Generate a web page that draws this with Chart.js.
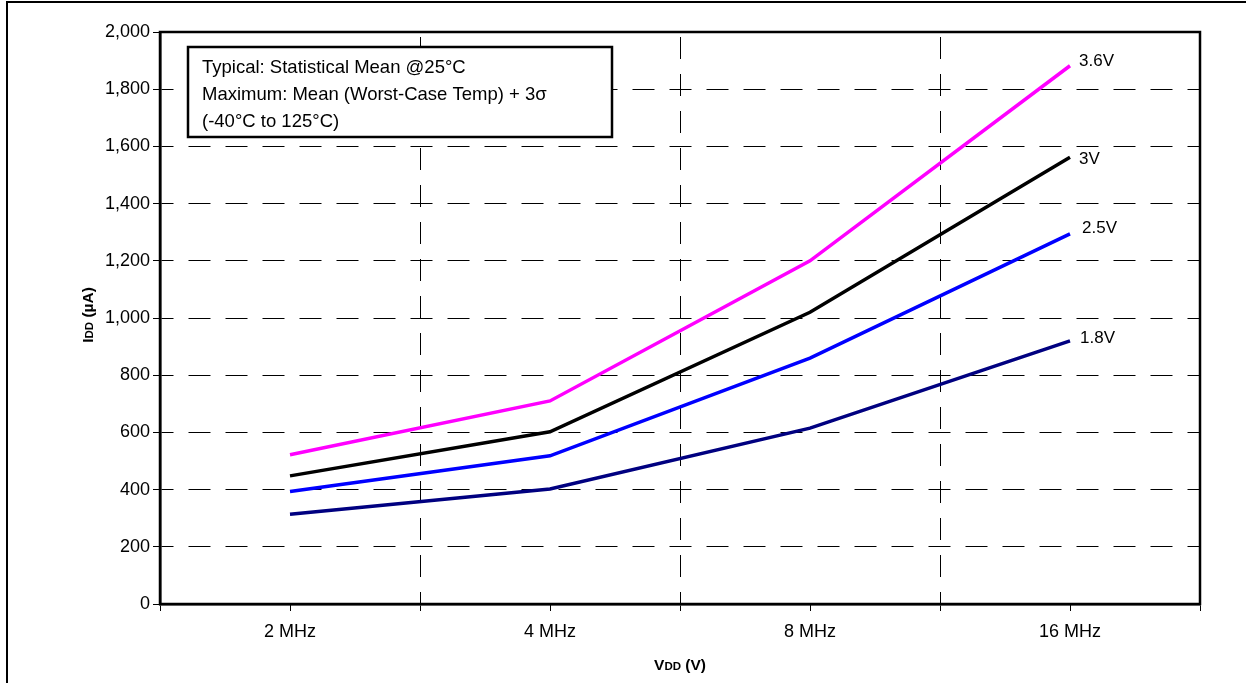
<!DOCTYPE html>
<html>
<head>
<meta charset="utf-8">
<script src="https://cdn.jsdelivr.net/npm/chart.js@4.4.1/dist/chart.umd.min.js"></script>
<style>
  html, body { margin: 0; padding: 0; background: #fff; }
  #wrap { position: relative; width: 1246px; height: 683px; }
</style>
</head>
<body>
<div id="wrap"><canvas id="c" width="1246" height="683"></canvas></div>
<script>
// ---- data ----
const categories = ['2 MHz', '4 MHz', '8 MHz', '16 MHz'];
const series36 = [522, 710, 1200, 1882];
const series30 = [448, 602, 1020, 1562];
const series25 = [393, 518, 860, 1294];
const series18 = [314, 402, 615, 920];
const seriesNames = ['3.6V', '3V', '2.5V', '1.8V'];
const yTickValues = [0, 200, 400, 600, 800, 1000, 1200, 1400, 1600, 1800, 2000];
const noteLines = [
  'Typical: Statistical Mean @25°C',
  'Maximum: Mean (Worst-Case Temp) + 3σ',
  '(-40°C to 125°C)'
];
const xTitleParts = [['V', 15.5], ['DD', 11.5], [' (V)', 15.5]];
const yTitleParts = [['I', 15.5], ['DD', 11.5], [' (µA)', 15.5]];

const FONT = '"Liberation Sans", Arial, Helvetica, sans-serif';
const colors = ['#ff00ff', '#000000', '#0000ff', '#000080'];
const labelOffsets = [[9, -4], [9, 2], [12, -6], [10, -3]];

const decorPlugin = {
  id: 'decor',
  beforeDatasetsDraw(chart) {
    const {ctx, chartArea: a} = chart;
    ctx.save();
    ctx.strokeStyle = '#000';
    ctx.lineWidth = 2.5;
    ctx.setLineDash([]);
    ctx.strokeRect(a.left, a.top, a.right - a.left, a.bottom - a.top);
    // extra tick marks at category centres
    const xs = chart.scales.x;
    ctx.lineWidth = 1;
    categories.forEach((c, i) => {
      const px = Math.round(xs.getPixelForValue(i)) + 0.5;
      ctx.beginPath();
      ctx.moveTo(px, a.bottom);
      ctx.lineTo(px, a.bottom + 7);
      ctx.stroke();
    });
    ctx.restore();
  },
  afterDatasetsDraw(chart) {
    const {ctx, chartArea: a} = chart;
    ctx.save();
    // series end labels
    ctx.font = '17px ' + FONT;
    ctx.fillStyle = '#000';
    ctx.textAlign = 'left';
    ctx.textBaseline = 'middle';
    chart.data.datasets.forEach((ds, i) => {
      const meta = chart.getDatasetMeta(i);
      const last = meta.data[meta.data.length - 1];
      ctx.fillText(seriesNames[i], last.x + labelOffsets[i][0], last.y + labelOffsets[i][1]);
    });
    // note box
    ctx.fillStyle = '#fff';
    ctx.fillRect(188, 47, 424, 90);
    ctx.strokeStyle = '#000';
    ctx.lineWidth = 2.5;
    ctx.strokeRect(188, 47, 424, 90);
    ctx.fillStyle = '#000';
    ctx.font = '18.5px ' + FONT;
    noteLines.forEach((t, i) => ctx.fillText(t, 202, 68 + i * 27));
    // axis titles
    const drawParts = (parts, cx, cy, rot) => {
      ctx.save();
      ctx.translate(cx, cy);
      ctx.rotate(rot);
      let total = 0;
      parts.forEach(([t, s]) => { ctx.font = 'bold ' + s + 'px ' + FONT; total += ctx.measureText(t).width; });
      let x = -total / 2;
      ctx.textBaseline = 'alphabetic';
      ctx.textAlign = 'left';
      parts.forEach(([t, s]) => {
        ctx.font = 'bold ' + s + 'px ' + FONT;
        ctx.fillText(t, x, 5);
        x += ctx.measureText(t).width;
      });
      ctx.restore();
    };
    drawParts(xTitleParts, (a.left + a.right) / 2, 665, 0);
    drawParts(yTitleParts, 88, (a.top + a.bottom) / 2 - 3, -Math.PI / 2);
    // page frame (left and top)
    ctx.strokeStyle = '#000';
    ctx.lineWidth = 2;
    ctx.beginPath();
    ctx.moveTo(7, 683);
    ctx.lineTo(7, 2);
    ctx.lineTo(1246, 2);
    ctx.stroke();
    ctx.restore();
  }
};

const mk = (label, data, color) => ({
  label, data, borderColor: color, backgroundColor: color,
  borderWidth: 3.5, pointRadius: 0, tension: 0, fill: false
});

new Chart(document.getElementById('c'), {
  type: 'line',
  data: {
    labels: categories,
    datasets: [
      mk(seriesNames[0], series36, colors[0]),
      mk(seriesNames[1], series30, colors[1]),
      mk(seriesNames[2], series25, colors[2]),
      mk(seriesNames[3], series18, colors[3])
    ]
  },
  options: {
    responsive: false,
    devicePixelRatio: 1,
    animation: false,
    layout: { padding: { left: 0, right: 46, top: 32, bottom: 0 } },
    plugins: { legend: { display: false }, tooltip: { enabled: false }, title: { display: false } },
    scales: {
      x: {
        type: 'category',
        offset: true,
        grid: {
          offset: true, color: '#000', lineWidth: 1,
          drawTicks: true, tickLength: 7, tickColor: '#000', tickBorderDash: [], tickWidth: 1
        },
        border: { display: true, color: '#000', width: 2.5, dash: [22, 15], dashOffset: 32 },
        ticks: { color: '#000', font: { family: FONT, size: 18 }, padding: 10, maxRotation: 0 },
        afterFit(s) { s.height = 79; }
      },
      y: {
        min: 0, max: 2000,
        afterBuildTicks(s) { s.ticks = yTickValues.map(v => ({ value: v })); },
        grid: {
          color: '#000', lineWidth: 1,
          drawTicks: true, tickLength: 7, tickColor: '#000', tickBorderDash: [], tickWidth: 1
        },
        border: { display: true, color: '#000', width: 2.5, dash: [22, 15], dashOffset: 10 },
        ticks: {
          color: '#000', font: { family: FONT, size: 18 }, padding: 3,
          callback: v => v.toLocaleString('en-US')
        },
        afterFit(s) { s.width = 160; }
      }
    }
  },
  plugins: [decorPlugin]
});
</script>
</body>
</html>
